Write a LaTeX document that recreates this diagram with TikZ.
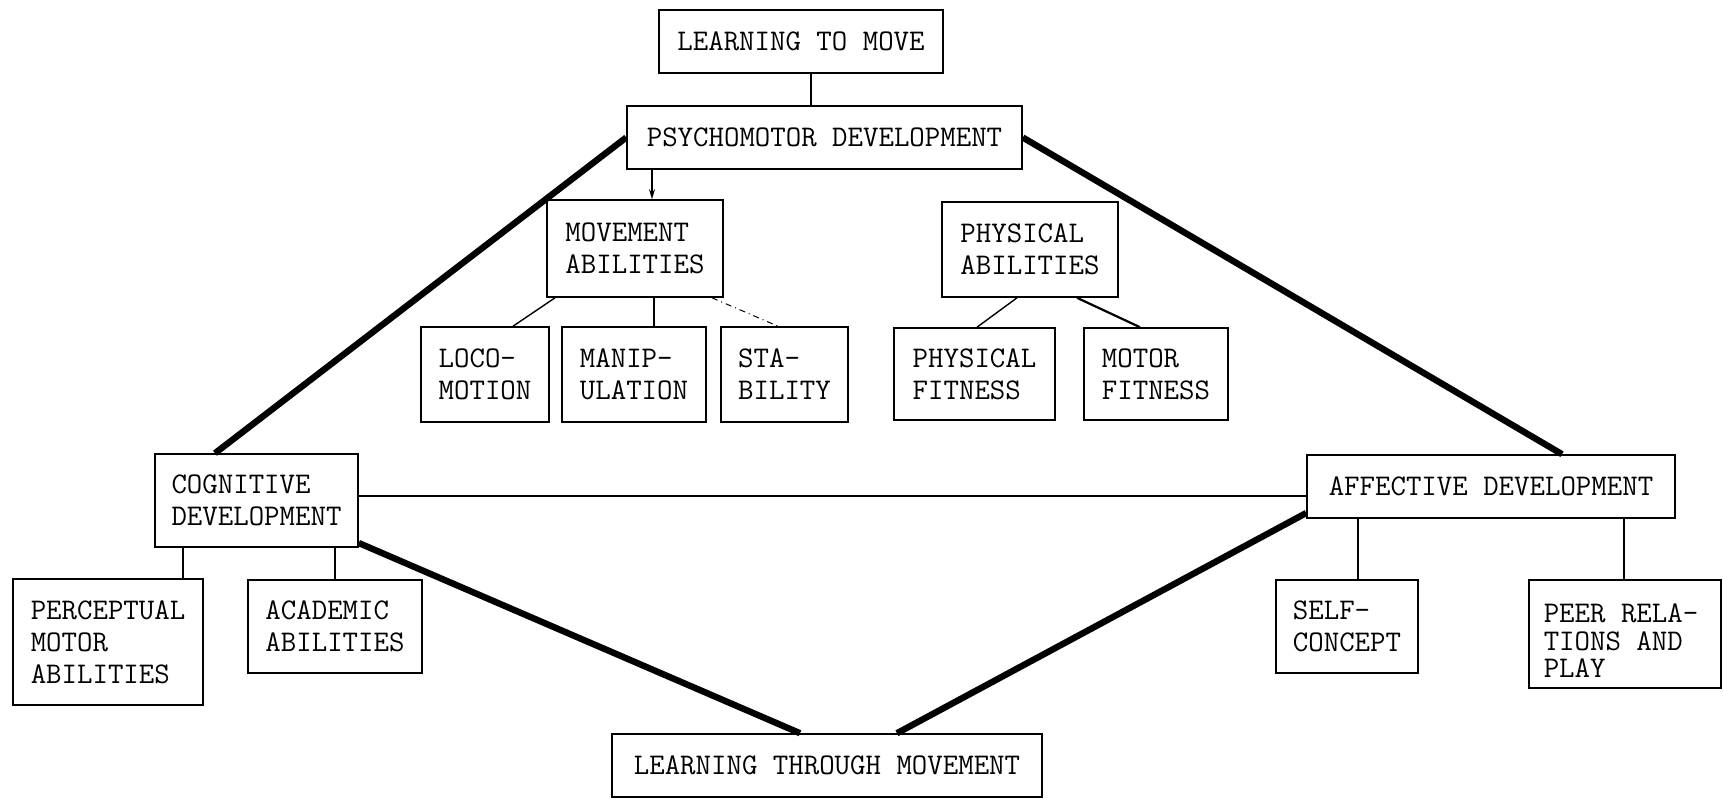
\documentclass[tikz,border=0pt]{standalone}
\usetikzlibrary{arrows.meta}
\begin{document}
\begin{tikzpicture}[x=0.5pt,y=-0.5pt,
  box/.style={draw,line width=0.8pt,inner sep=0pt,align=left,
    font=\ttfamily\fontsize{15}{16}\selectfont},
  thin/.style={line width=0.7pt},
  thick/.style={line width=3.2pt},
  plain/.style={inner sep=0pt,align=left,font=\ttfamily\fontsize{15}{13.8}\selectfont}]
\useasboundingbox (0,0) rectangle (1723,799);
% box from its corners: name, x1, y1, x2, y2, text
\newcommand\bx[6]{\node[box,minimum width={(#4-#2)*0.5pt},minimum height={(#5-#3)*0.5pt}]
  (#1) at ({(#2+#4)/2},{(#3+#5)/2}) {#6};}

\bx{ltm}{659}{10}{943}{73}{LEARNING TO MOVE}
\bx{psy}{627}{106}{1022}{169}{PSYCHOMOTOR DEVELOPMENT}
\bx{ma}{547}{200}{723}{297}{MOVEMENT\\ABILITIES}
\bx{pa}{942}{202}{1118}{297}{PHYSICAL\\ABILITIES}
\bx{loco}{421}{327}{549}{422}{LOCO-\\MOTION}
\bx{manip}{562}{327}{706}{422}{MANIP-\\ULATION}
\bx{sta}{721}{327}{848}{422}{STA-\\BILITY}
\bx{pf}{894}{328}{1055}{420}{PHYSICAL\\FITNESS}
\bx{mf}{1084}{328}{1228}{420}{MOTOR\\FITNESS}
\bx{cog}{155}{454}{358}{547}{COGNITIVE\\DEVELOPMENT}
\bx{aff}{1307}{455}{1675}{518}{AFFECTIVE DEVELOPMENT}
\bx{perc}{13}{579}{203}{705}{PERCEPTUAL\\MOTOR\\ABILITIES}
\bx{acad}{248}{580}{422}{673}{ACADEMIC\\ABILITIES}
\bx{self}{1276}{580}{1418}{673}{SELF-\\CONCEPT}
\bx{peer}{1529}{580}{1721}{688}{}
\node[plain] (peertxt) at (1621,641) {PEER RELA-\\TIONS AND\\PLAY};
\bx{ltmv}{612}{734}{1042}{797}{LEARNING THROUGH MOVEMENT}

% upper chain
\draw[thin] (ltm.south -| 811,0) -- (psy.north -| 811,0);
\draw[thin,-{Stealth[length=5pt,width=3pt]}] (psy.south -| 652,0) -- (ma.north -| 652,0);

% movement abilities branches
\draw[thin] (ma.south -| 555,0) -- (loco.north -| 513,0);
\draw[thin] (ma.south -| 654,0) -- (manip.north -| 654,0);
\draw[line width=0.5pt,dash dot] (ma.south -| 712,0) -- (sta.north -| 778,0);

% physical abilities branches
\draw[thin] (pa.south -| 1017,0) -- (pf.north -| 977,0);
\draw[line width=1.1pt] (pa.south -| 1077,0) -- (mf.north -| 1140,0);

% the three domains
\draw[thick] (psy.west) -- (cog.north -| 215,0);
\draw[thick] (psy.east) -- (aff.north -| 1562,0);
\draw[thin] (cog.east |- 0,496) -- (aff.west |- 0,496);
\draw[thick] (cog.east |- 0,543) -- (ltmv.north -| 800,0);
\draw[thick] (aff.west |- 0,513) -- (ltmv.north -| 897,0);

% cognitive and affective branches
\draw[thin] (cog.south -| 183,0) -- (perc.north -| 183,0);
\draw[thin] (cog.south -| 335,0) -- (acad.north -| 335,0);
\draw[thin] (aff.south -| 1358,0) -- (self.north -| 1358,0);
\draw[thin] (aff.south -| 1624,0) -- (peer.north -| 1624,0);
\end{tikzpicture}
\end{document}
